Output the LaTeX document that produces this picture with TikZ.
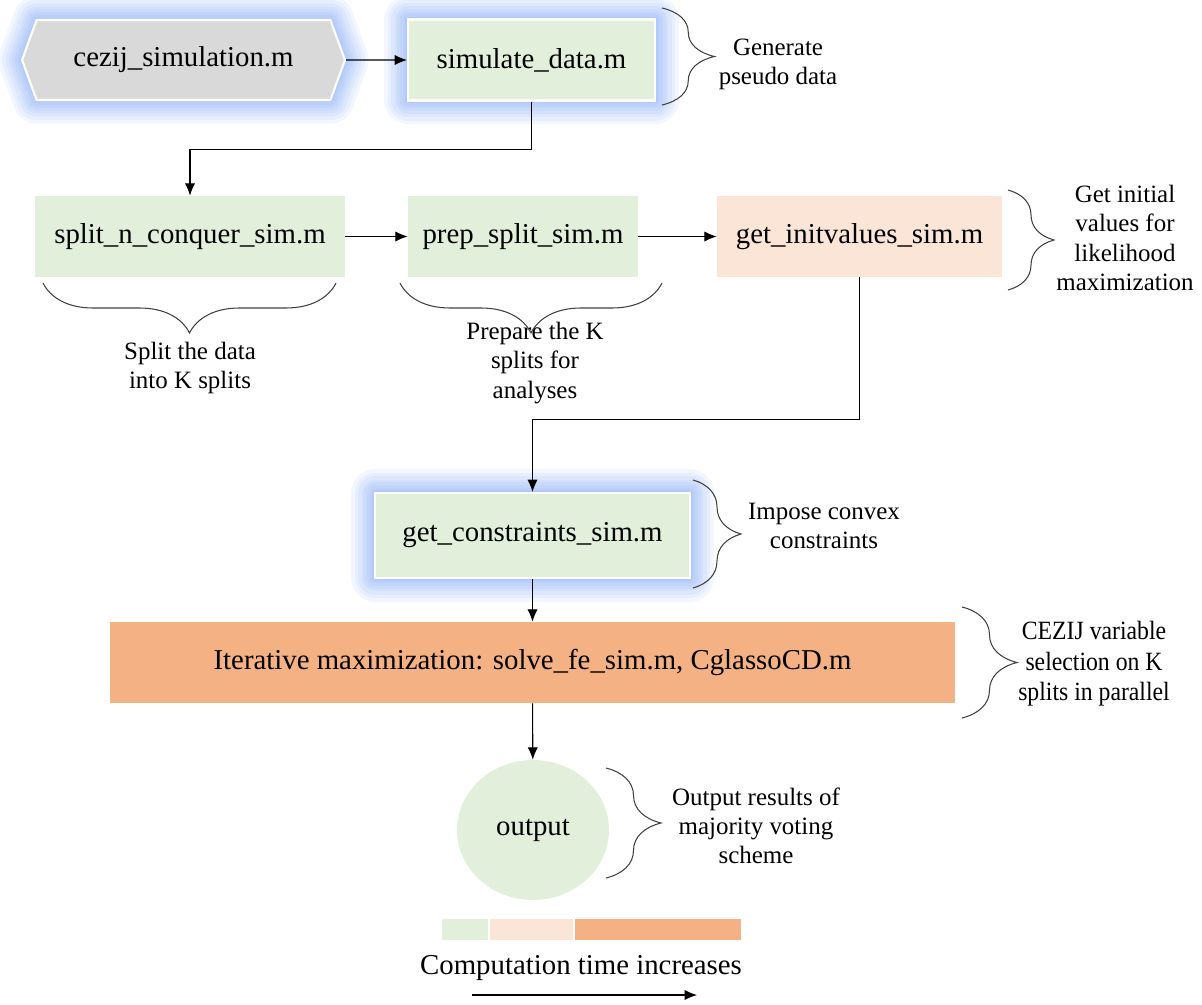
\documentclass[tikz,border=0pt]{standalone}
\usepackage{fontspec}
\setmainfont{Liberation Serif}
\newfontfamily\narrowserif[FakeStretch=0.9]{Liberation Serif}
\usetikzlibrary{positioning,arrows.meta,shapes.symbols,shapes.geometric,decorations.pathreplacing}
\definecolor{boxgreen}{HTML}{E2EFDA}
\definecolor{boxpeach}{HTML}{FBE5D6}
\definecolor{boxorange}{HTML}{F4B183}
\definecolor{boxgray}{HTML}{D9D9D9}
\definecolor{glowblue}{HTML}{5A8CF2}

\begin{document}
\begin{tikzpicture}[
                x=0.02cm,y=-0.02cm,
                box/.style={fill=boxgreen,minimum height=1.62cm,inner sep=0pt,font=\fontsize{16.4}{19}\selectfont},
                hexa/.style={signal,signal to=west and east,signal pointer angle=140,fill=boxgray,minimum height=1.6cm,minimum width=6.46cm,inner sep=0pt,font=\fontsize{16.4}{19}\selectfont},
                glowlayer/.style={preaction={draw=glowblue,line width=#1,opacity=.075,line join=round}},
                glow/.style={glowlayer=27pt,glowlayer=23pt,glowlayer=19pt,glowlayer=15pt,
                             glowlayer=12pt,glowlayer=9pt,glowlayer=6pt,glowlayer=3pt,
                             draw=white,line width=1.2pt},
                note/.style={align=center,font=\fontsize{14.2}{16.6}\selectfont},
                brc/.style={decorate,decoration={brace,amplitude=#1},draw=black!75,line width=0.6pt},
                brc/.default=1cm,
                link/.style={-{Latex[length=7pt,width=5.8pt]},line width=0.6pt}
            ]
                \useasboundingbox (0,0) rectangle (1202,1004);

                \node[hexa,glow] (cezij) at (183.5,60) {cezij\_simulation.m};
                \node[box,glow,minimum width=4.94cm] (simdata) at (531.5,60) {simulate\_data.m};

                \node[box,minimum width=6.2cm] (split) at (190,236.5) {split\_n\_conquer\_sim.m};
                \node[box,minimum width=4.6cm] (prep) at (523,236.5) {prep\_split\_sim.m};
                \node[box,fill=boxpeach,minimum width=5.7cm] (init) at (859.5,236.5) {get\_initvalues\_sim.m};

                \node[box,glow,minimum width=6.3cm,minimum height=1.7cm] (cons) at (532.5,535.5) {get\_constraints\_sim.m};
                \node[box,fill=boxorange,minimum width=16.9cm] (iter) at (532.5,662.5) {Iterative maximization: solve\_fe\_sim.m, CglassoCD.m};
                \node[box,ellipse,minimum width=3.04cm,minimum height=2.8cm] (out) at (533,830) {output};

                \node[note] (gen) at (778,64) {Generate\\pseudo data};
                \node[note] (initnote) at (1125,238) {Get initial\\values for\\likelihood\\maximization};
                \node[note] (splitnote) at (190,368) {Split the data\\into K splits};
                \node[note] (prepnote) at (535,363) {Prepare the K\\splits for\\analyses};
                \node[note] (consnote) at (824,526) {Impose convex\\constraints};
                \node[note,font=\fontsize{15}{17.4}\narrowserif] (iternote) at (1094,664) {CEZIJ variable\\selection on K\\splits in parallel};
                \node[note] (outnote) at (756,826) {Output results of\\majority voting\\scheme};

                \draw[brc=1.05cm] (662,8) -- (662,105);
                \draw[brc=0.92cm] (1008,190) -- (1008,290);
                \draw[brc] (336,283) -- (43,283);
                \draw[brc] (662,283) -- (400,283);
                \draw[brc=0.96cm] (693,480) -- (693,588);
                \draw[brc=1.1cm] (962,607) -- (962,718);
                \draw[brc=1.1cm] (606,768) -- (606,878);

                \node[fill=boxgreen,minimum width=0.92cm,minimum height=0.42cm,inner sep=0pt] (leg1) at (465,929.5) {};
                \node[fill=boxpeach,minimum width=1.66cm,minimum height=0.42cm,inner sep=0pt] (leg2) at (531.5,929.5) {};
                \node[fill=boxorange,minimum width=3.32cm,minimum height=0.42cm,inner sep=0pt] (leg3) at (658,929.5) {};
                \node[font=\fontsize{16.4}{19}\selectfont] (timenote) at (581,968) {Computation time increases};
                \coordinate (tstart) at (472,995);
                \coordinate (tend) at (697,995);

                \begin{scope}[link]
                    \draw (cezij) -- (simdata);
                    \draw (simdata.south) -- ++(0,48) -| (split.north);
                    \draw (split) -- (prep);
                    \draw (prep) -- (init);
                    \draw (init.south) -- ++(0,142) -| (cons.north);
                    \draw (cons) -- (iter);
                    \draw (iter) -- (out);
                    \draw (tstart) -- (tend);
                \end{scope}
            \end{tikzpicture}
\end{document}
